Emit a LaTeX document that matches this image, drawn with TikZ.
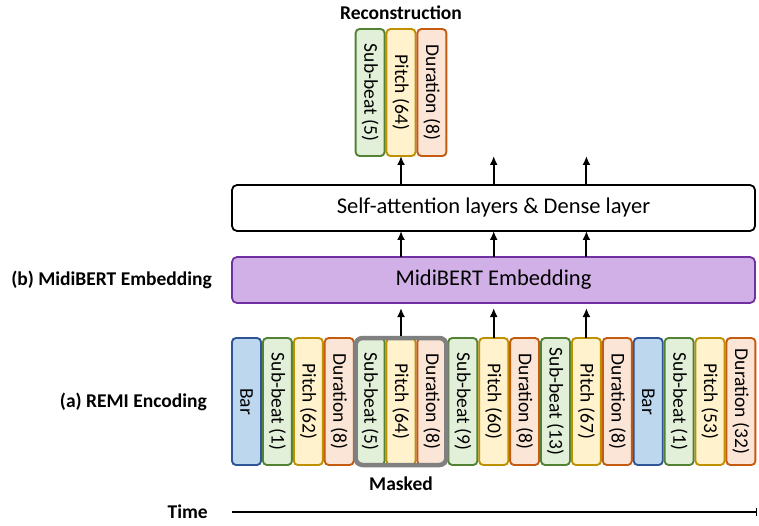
\documentclass[tikz,border=0pt]{standalone}
\usepackage{fontspec}
\setmainfont{Carlito}
\usepackage{xcolor}
\usetikzlibrary{arrows.meta, positioning, fit}
\definecolor{barfill}{HTML}{BDD7EE}
\definecolor{bardraw}{HTML}{2F5597}
\definecolor{subfill}{HTML}{E2F0D9}
\definecolor{subdraw}{HTML}{548235}
\definecolor{pitchfill}{HTML}{FFF2CC}
\definecolor{pitchdraw}{HTML}{BF9000}
\definecolor{durfill}{HTML}{FBE5D6}
\definecolor{durdraw}{HTML}{C55A11}
\definecolor{embfill}{HTML}{D1AFE7}
\definecolor{embdraw}{HTML}{7030A0}
\definecolor{maskgray}{HTML}{808080}
\tikzstyle{token} = [rectangle, rounded corners=4pt, 
line width=1.9pt, 
outer sep=0pt, 
minimum width=29pt, 
minimum height=127pt, 
inner sep=0pt, 
font=\fontsize{19.5}{22}\selectfont]
\tikzstyle{bartok} = [token, fill=barfill, draw=bardraw]
\tikzstyle{subtok} = [token, fill=subfill, draw=subdraw]
\tikzstyle{pitchtok} = [token, fill=pitchfill, draw=pitchdraw]
\tikzstyle{durtok} = [token, fill=durfill, draw=durdraw]
\tikzstyle{layer} = [rectangle, rounded corners=5pt, 
line width=1.8pt, 
outer sep=0pt, 
minimum width=523pt, 
minimum height=46pt, 
text centered, 
font=\fontsize{22.5}{26}\selectfont]
\tikzstyle{maskbox} = [draw=maskgray, line width=4.5pt, rounded corners=7pt, inner sep=0pt]
\tikzstyle{sidelabel} = [font=\bfseries\fontsize{19.5}{22}\selectfont, inner sep=0pt]
\tikzstyle{arrow} = [line width=2pt, -{Latex[length=9pt, width=8pt]}]
\newcommand{\vlabel}[1]{\rotatebox{-90}{#1}}

\begin{document}
\begin{tikzpicture}[x=1pt, y=1pt]
        \useasboundingbox (0,0) rectangle (759,525);

        % Tokens (REMI)
        \node (t1) [bartok] at (246.5,123.5) {\vlabel{Bar}};
        \node (t2) [subtok, right=1.9pt of t1] {\vlabel{Sub-beat (1)}};
        \node (t3) [pitchtok, right=1.9pt of t2] {\vlabel{Pitch (62)}};
        \node (t4) [durtok, right=1.9pt of t3] {\vlabel{Duration (8)}};
        \node (t5) [subtok, right=1.9pt of t4] {\vlabel{Sub-beat (5)}};
        \node (t6) [pitchtok, right=1.9pt of t5] {\vlabel{Pitch (64)}};
        \node (t7) [durtok, right=1.9pt of t6] {\vlabel{Duration (8)}};
        \node (t8) [subtok, right=1.9pt of t7] {\vlabel{Sub-beat (9)}};
        \node (t9) [pitchtok, right=1.9pt of t8] {\vlabel{Pitch (60)}};
        \node (t10) [durtok, right=1.9pt of t9] {\vlabel{Duration (8)}};
        \node (t11) [subtok, right=1.9pt of t10] {\vlabel{Sub-beat (13)}};
        \node (t12) [pitchtok, right=1.9pt of t11] {\vlabel{Pitch (67)}};
        \node (t13) [durtok, right=1.9pt of t12] {\vlabel{Duration (8)}};
        \node (t14) [bartok, right=1.9pt of t13] {\vlabel{Bar}};
        \node (t15) [subtok, right=1.9pt of t14] {\vlabel{Sub-beat (1)}};
        \node (t16) [pitchtok, right=1.9pt of t15] {\vlabel{Pitch (53)}};
        \node (t17) [durtok, right=1.9pt of t16] {\vlabel{Duration (32)}};
        \node (mask) [maskbox, fit=(t5)(t7)] {};
        \node (masked) [sidelabel, below=9pt of mask] {Masked};

        % Layers
        \node (emb) [layer, fill=embfill, draw=embdraw] at (493.5,245) {MidiBERT Embedding};
        \node (attn) [layer, draw=black, above=26pt of emb] {Self-attention layers \& Dense layer};

        % Reconstruction
        \node (r2) [pitchtok, above=29pt of attn.north -| t6, anchor=south] {\vlabel{Pitch (64)}};
        \node (r1) [subtok, left=1.9pt of r2] {\vlabel{Sub-beat (5)}};
        \node (r3) [durtok, right=1.9pt of r2] {\vlabel{Duration (8)}};
        \node (rec) [sidelabel, above=9pt of r2] {Reconstruction};

        % Side labels
        \node (lblemb) [sidelabel, left=20pt of emb] {(b) MidiBERT Embedding};
        \node (lblremi) [sidelabel, left=25pt of t1] {(a) REMI Encoding};
        \node (time) [sidelabel, anchor=east] at (208,13) {Time};

        % Connections
        \draw [arrow, shorten >=5pt] (mask.north -| t6) -- (emb.south -| t6);
        \draw [arrow, shorten >=5pt] (t9) -- (emb.south -| t9);
        \draw [arrow, shorten >=5pt] (t12) -- (emb.south -| t12);
        \draw [arrow] (emb.north -| t6) -- (attn.south -| t6);
        \draw [arrow] (emb.north -| t9) -- (attn.south -| t9);
        \draw [arrow] (emb.north -| t12) -- (attn.south -| t12);
        \draw [arrow] (attn.north -| r2) -- (r2);
        \draw [arrow] (attn.north -| t9) -- (r2.south -| t9);
        \draw [arrow] (attn.north -| t12) -- (r2.south -| t12);
        \draw [line width=1.8pt, -{Bar[width=8pt]}] (t1.west |- time) -- ([xshift=2pt]t17.east |- time);

    \end{tikzpicture}
\end{document}
